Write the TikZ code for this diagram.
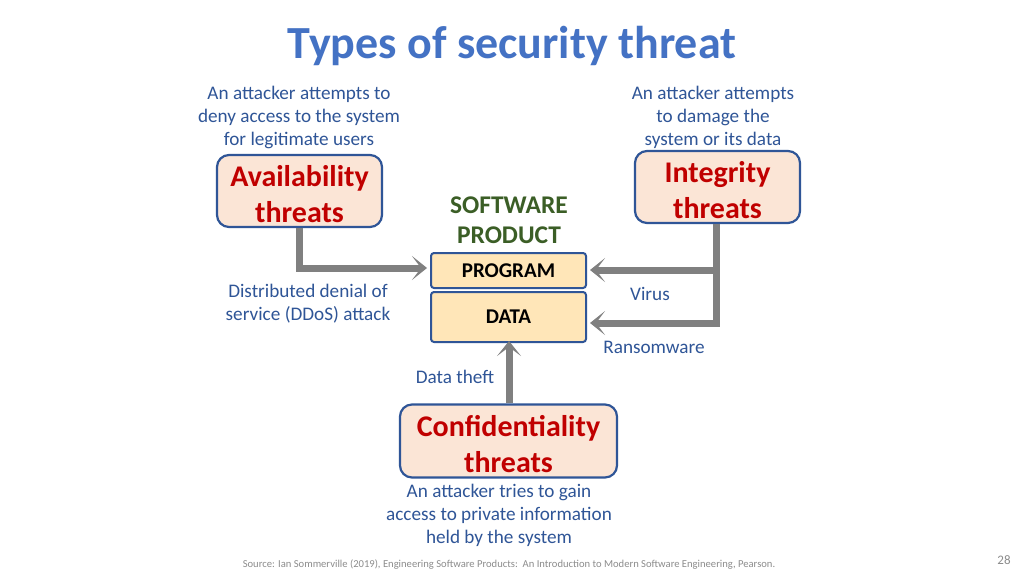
\documentclass[tikz,border=0pt]{standalone}
\usepackage{fontspec}
\setmainfont{Carlito}
\usetikzlibrary{arrows.meta}
\definecolor{titleblue}{HTML}{4472C4}
\definecolor{txtblue}{HTML}{2F5597}
\definecolor{boxborder}{HTML}{2F5597}
\definecolor{threatred}{HTML}{C00000}
\definecolor{peach}{HTML}{FBE5D6}
\definecolor{sand}{HTML}{FFE6B8}
\definecolor{prodgreen}{HTML}{3B5E26}
\definecolor{arrowgray}{HTML}{808080}
\newcommand{\downstrut}{\rule{0pt}{27pt}}
\tikzset{
  threatbox/.style={draw=boxborder, line width=2.2pt, rounded corners=12pt, fill=peach,
    text=threatred, font=\fontsize{30}{36}\selectfont\bfseries, align=center, inner sep=0pt},
  partbox/.style={draw=boxborder, line width=2pt, rounded corners=3pt, fill=sand,
    text=black, font=\fontsize{21}{24}\selectfont\bfseries, inner sep=0pt},
  desc/.style={text=txtblue, font=\fontsize{19.2}{23}\selectfont, align=center, inner sep=0pt},
  conn/.style={draw=arrowgray, line width=7pt},
  tip/.style={-{Stealth[length=15pt, width=24pt, inset=9pt]}}
}
\begin{document}
\begin{tikzpicture}[x=1pt, y=-1pt]
\useasboundingbox (0,0) rectangle (1024,575);
\fill[white] (0,0) rectangle (1024,575);
% title
\node[text=titleblue, font=\fontsize{46}{52}\selectfont\bfseries, inner sep=0pt] (title) at (512,46) {Types of security threat};
% threat boxes
\node[threatbox, minimum width=165pt, minimum height=72pt] (avail) at (299.5,191) {\downstrut Availability\\threats};
\node[threatbox, minimum width=165pt, minimum height=72pt] (integ) at (717.5,187) {\downstrut Integrity\\threats};
\node[threatbox, minimum width=217pt, minimum height=73pt] (conf) at (508.5,441) {\downstrut Confidentiality\\threats};
% product
\node[text=prodgreen, font=\fontsize{25.5}{30}\selectfont\bfseries, align=center, inner sep=0pt] (prod) at (509,220) {SOFTWARE\\PRODUCT};
\node[partbox, minimum width=155pt, minimum height=35pt] (prog) at (508.5,270.5) {PROGRAM};
\node[partbox, minimum width=155pt, minimum height=50pt] (data) at (508.5,317) {DATA};
% descriptions
\node[desc] (d1) at (299,117) {An attacker attempts to\\deny access to the system\\for legitimate users};
\node[desc] (d2) at (713,117) {An attacker attempts\\to damage the\\system or its data};
\node[desc] (d3) at (308,304) {Distributed denial of\\service (DDoS) attack};
\node[desc] (d4) at (499,515) {An attacker tries to gain\\access to private information\\held by the system};
\node[desc] (virus) at (650,294) {Virus};
\node[desc] (ransom) at (654,347) {Ransomware};
\node[desc] (theft) at (455,377) {Data theft};
% connectors
\coordinate (aturn) at (299,268);
\coordinate (ijoin) at (716,270);
\coordinate (iturn) at (716,323);
\draw[conn, tip] (avail.south -| aturn) -- (aturn) -- ([xshift=-3pt]prog.west |- aturn);
\draw[conn] (integ.south -| iturn) -- (iturn);
\draw[conn, tip] (ijoin) -- ([xshift=3pt]prog.east |- ijoin);
\draw[conn, tip] ([xshift=3.5pt]iturn) -- ([xshift=3pt]data.east |- iturn);
\draw[conn, tip] (conf.north -| 509,0) -- ([yshift=2pt]data.south -| 509,0);
% footer
\node[text=gray!90, font=\fontsize{10.6}{12}\selectfont, inner sep=0pt] (src) at (509,565) {Source: Ian Sommerville (2019), Engineering Software Products:\ \ An Introduction to Modern Software Engineering, Pearson.};
\node[text=gray!90, font=\fontsize{13}{15}\selectfont, inner sep=0pt] (page) at (1004,560) {28};
\end{tikzpicture}
\end{document}
